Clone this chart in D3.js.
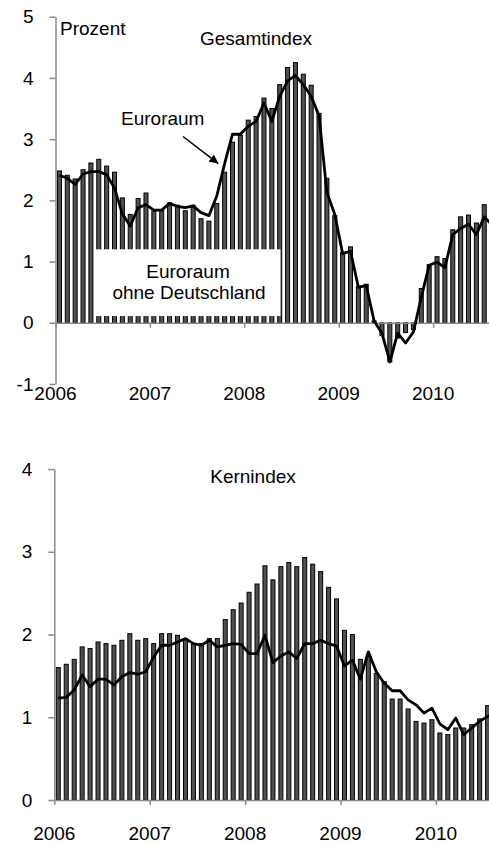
<!DOCTYPE html>
<html>
<head>
<meta charset="utf-8">
<script src="https://cdn.jsdelivr.net/npm/d3@7/dist/d3.min.js"></script>
<style>
    body { margin: 0; background: #fff; }
    svg text { font-family: "Liberation Sans", Arial, sans-serif; font-size: 19px; fill: #000; }
</style>
</head>
<body>
<div id="chart"></div>
<script>
// Monthly data, Jan 2006 - Jul/Aug 2010 (percent, year on year)
const years = ['2006', '2007', '2008', '2009', '2010'];

// Gesamtindex: bars = Euroraum ohne Deutschland, line = Euroraum
const gesamtOhneDE = [
    2.48, 2.41, 2.35, 2.50, 2.61, 2.67, 2.56, 2.46, 2.04, 1.77, 2.03, 2.12,
    1.83, 1.83, 1.96, 1.92, 1.83, 1.92, 1.70, 1.66, 1.95, 2.46, 2.95, 3.06,
    3.31, 3.37, 3.67, 3.50, 3.89, 4.17, 4.25, 4.06, 3.88, 3.42, 2.36, 1.75,
    1.15, 1.24, 0.60, 0.63, 0.03, -0.21, -0.64, -0.25, -0.16, -0.11, 0.56, 0.95,
    1.08, 1.05, 1.52, 1.73, 1.76, 1.63, 1.93
];
const gesamtEuro = [
    2.41, 2.36, 2.26, 2.43, 2.47, 2.47, 2.42, 2.20, 1.78, 1.58, 1.88, 1.93,
    1.84, 1.84, 1.95, 1.90, 1.88, 1.91, 1.80, 1.75, 2.07, 2.60, 3.08, 3.08,
    3.21, 3.29, 3.59, 3.29, 3.70, 3.95, 4.04, 3.89, 3.70, 3.38, 2.13, 1.77,
    1.13, 1.17, 0.58, 0.61, 0.03, -0.17, -0.64, -0.17, -0.33, -0.15, 0.42, 0.94,
    0.99, 0.90, 1.44, 1.54, 1.61, 1.44, 1.73, 1.60
];

// Kernindex
const kernOhneDE = [
    1.60, 1.64, 1.70, 1.85, 1.83, 1.91, 1.89, 1.87, 1.93, 2.01, 1.93, 1.95,
    1.89, 2.01, 2.01, 1.99, 1.95, 1.89, 1.89, 1.95, 1.95, 2.18, 2.30, 2.38,
    2.51, 2.61, 2.83, 2.66, 2.82, 2.87, 2.82, 2.93, 2.85, 2.76, 2.57, 2.43,
    2.05, 2.00, 1.70, 1.76, 1.53, 1.43, 1.22, 1.22, 1.10, 0.95, 0.93, 0.97,
    0.81, 0.79, 0.87, 0.87, 0.91, 0.98, 1.14
];
const kernEuro = [
    1.23, 1.24, 1.33, 1.51, 1.37, 1.46, 1.46, 1.39, 1.49, 1.54, 1.52, 1.55,
    1.73, 1.87, 1.87, 1.91, 1.95, 1.89, 1.87, 1.93, 1.85, 1.87, 1.89, 1.88,
    1.77, 1.77, 1.99, 1.66, 1.74, 1.79, 1.71, 1.89, 1.89, 1.93, 1.89, 1.86,
    1.62, 1.69, 1.46, 1.79, 1.55, 1.41, 1.32, 1.32, 1.21, 1.15, 1.05, 1.11,
    0.92, 0.85, 0.99, 0.79, 0.87, 0.95, 1.01, 1.05
];

const gesamtTicks = [-1, 0, 1, 2, 3, 4, 5];
const kernTicks = [0, 1, 2, 3, 4];

const W = 489, H = 844;
const svg = d3.select('#chart').append('svg')
    .attr('width', W)
    .attr('height', H);

// Draw one panel (bars + line + axes)
const drawPanel = (cfg) => {
    const x = d3.scaleLinear()
        .domain([0, 12 * years.length])
        .range([cfg.x0, cfg.x0 + cfg.yearW * years.length]);
    const y = d3.scaleLinear()
        .domain(cfg.domain)
        .range([cfg.yBottom, cfg.yTop]);

    const g = svg.append('g');

    g.selectAll('.bar')
        .data(cfg.bars)
        .enter()
        .append('rect')
        .attr('class', 'bar')
        .attr('x', (d, i) => x(i + 0.5) - 2)
        .attr('width', 4)
        .attr('y', d => y(Math.max(0, d)))
        .attr('height', d => Math.abs(y(d) - y(0)))
        .attr('fill', '#505050')
        .attr('stroke', '#000')
        .attr('stroke-width', 1);

    if (cfg.extra) cfg.extra(g, x, y);

    // y axis
    const yAxis = g.append('g')
        .attr('transform', `translate(${cfg.x0},0)`)
        .call(d3.axisLeft(y)
            .tickValues(cfg.ticks)
            .tickFormat(d => String(d))
            .tickSize(6)
            .tickSizeOuter(0)
            .tickPadding(16));
    // x axis on the zero line
    const xAxis = g.append('g')
        .attr('transform', `translate(0,${y(0)})`)
        .call(d3.axisBottom(x)
            .tickValues(years.map((d, i) => i * 12))
            .tickSize(5)
            .tickSizeOuter(0)
            .tickFormat(''));

    [yAxis, xAxis].forEach(a => {
        a.attr('color', '#8a8a8a')
            .attr('font-size', 19)
            .attr('font-family', '"Liberation Sans", Arial, sans-serif');
        a.selectAll('path, line').attr('stroke-width', 1.5);
        a.selectAll('text').attr('fill', '#000');
    });

    // Euroraum line
    g.append('path')
        .datum(cfg.line)
        .attr('fill', 'none')
        .attr('stroke', '#000')
        .attr('stroke-width', 2.8)
        .attr('stroke-linejoin', 'round')
        .attr('d', d3.line().x((d, i) => x(i + 0.5)).y(d => y(d)));

    // year labels
    g.selectAll('.year')
        .data(years)
        .enter()
        .append('text')
        .attr('x', (d, i) => x(i * 12))
        .attr('y', cfg.yearY)
        .attr('text-anchor', 'middle')
        .text(d => d);

    g.append('text')
        .attr('x', cfg.titleX)
        .attr('y', cfg.titleY)
        .attr('text-anchor', 'middle')
        .text(cfg.title);

    return { x, y, g };
};

// arrow head
svg.append('defs').append('marker')
    .attr('id', 'arrow')
    .attr('viewBox', '0 0 10 10')
    .attr('refX', 10)
    .attr('refY', 5)
    .attr('markerWidth', 6)
    .attr('markerHeight', 6)
    .attr('markerUnits', 'strokeWidth')
    .attr('orient', 'auto')
    .append('path')
    .attr('d', 'M0,0 L10,5 L0,10 z')
    .attr('fill', '#000');

drawPanel({
    bars: gesamtOhneDE,
    line: gesamtEuro,
    ticks: gesamtTicks,
    domain: [-1, 5],
    x0: 55.5, yearW: 94.4,
    yTop: 16.7, yBottom: 384,
    yearY: 400,
    title: 'Gesamtindex', titleX: 256, titleY: 45,
    extra: (g, x, y) => {
        // white label box over the bars
        g.append('rect')
            .attr('x', x(4.92))
            .attr('y', y(1.2))
            .attr('width', x(28.6) - x(4.92))
            .attr('height', y(0.11) - y(1.2))
            .attr('fill', '#fff');
        g.append('text')
            .attr('x', 188).attr('y', 278)
            .attr('text-anchor', 'middle')
            .text('Euroraum');
        g.append('text')
            .attr('x', 189).attr('y', 299)
            .attr('text-anchor', 'middle')
            .text('ohne Deutschland');

        g.append('text').attr('x', 60).attr('y', 35).text('Prozent');
        g.append('text').attr('x', 121).attr('y', 125).text('Euroraum');
        g.append('line')
            .attr('x1', 183).attr('y1', 136.5)
            .attr('x2', x(20.7)).attr('y2', y(2.6))
            .attr('stroke', '#000')
            .attr('stroke-width', 1.5)
            .attr('marker-end', 'url(#arrow)');
    }
});

drawPanel({
    bars: kernOhneDE,
    line: kernEuro,
    ticks: kernTicks,
    domain: [0, 4],
    x0: 54.3, yearW: 95.4,
    yTop: 469, yBottom: 800,
    yearY: 840,
    title: 'Kernindex', titleX: 253, titleY: 483
});
</script>
</body>
</html>
